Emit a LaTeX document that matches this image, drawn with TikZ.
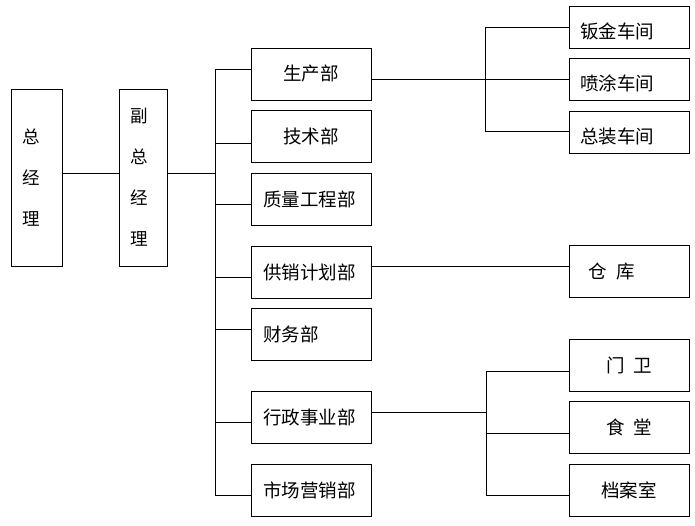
\documentclass[tikz,border=0pt]{standalone}
\usepackage{fontspec}
\newfontfamily\cjk{Noto Sans CJK SC}
\usetikzlibrary{calc}

\begin{document}
\begin{tikzpicture}[x=1pt, y=-1pt, line width=0.8pt,
  box/.style={draw, inner ysep=0pt, font=\cjk\fontsize{18.5}{22}\selectfont},
  boss/.style={box, inner xsep=11pt, align=left, minimum height=177pt,
    font=\cjk\fontsize{17.5}{41}\selectfont},
  dept/.style={box, inner xsep=12pt, text width=96pt, align=left, minimum height=52pt},
  shop/.style={box, inner xsep=11pt, text width=98pt, align=left, minimum height=42pt,
    text height=26pt, text depth=2pt},
  unit/.style={box, inner xsep=11pt, text width=98pt, align=center, minimum height=52pt}]
\useasboundingbox (0,0) rectangle (695,526);
\node[boss, text width=29pt] (zjl) at (36.5,177.5) {总\\经\\理};
\node[boss, text width=26pt] (fzjl) at (143,177.5) {副\\总\\经\\理};
\node[dept, align=center] (scb) at (311,74) {生产部};
\node[dept, align=center] (jsb) at (311,136.5) {技术部};
\node[dept] (zlb) at (311,199) {质量工程部};
\node[dept] (gxb) at (311,272) {供销计划部};
\node[dept] (cwb) at (311,334) {财务部};
\node[dept] (xzb) at (311,417) {行政事业部};
\node[dept] (scyx) at (311,490) {市场营销部};
\node[shop] (bj) at (629,27) {钣金车间};
\node[shop] (pt) at (629,79) {喷涂车间};
\node[shop] (zz) at (629,132) {总装车间};
\node[unit, align=left, inner xsep=19pt, text width=82pt] (ck) at (629,271.5) {仓\hspace{0.55em}库};
\node[unit] (mw) at (629,365) {门\hspace{0.45em}卫};
\node[unit] (st) at (629,427.5) {食\hspace{0.45em}堂};
\node[unit] (das) at (629,490) {档案室};
\coordinate (tk) at (215,0);
\coordinate (br1) at (485,0);
\coordinate (br2) at (486,0);
% top
\draw ([yshift=4.5pt]zjl.east) -- ([yshift=4.5pt]fzjl.west);
\draw ([yshift=4.5pt]fzjl.east) -- ([yshift=4.5pt]fzjl.east -| tk);
\draw ([yshift=5pt]scb.west) -- ([yshift=5pt]scb.west -| tk) -- ([yshift=-5pt]scyx.west -| tk) -- ([yshift=-5pt]scyx.west);
\foreach \d/\s in {jsb/-7, zlb/-5, gxb/-5, cwb/5, xzb/-5}
  \draw ([yshift=\s pt]\d.west) -- ([yshift=\s pt]\d.west -| tk);
% workshops
\draw ([yshift=-5pt]scb.east) -- (pt.west);
\draw (bj.west) -- (bj.west -| br1) -- ([yshift=1pt]zz.west -| br1) -- ([yshift=1pt]zz.west);
\draw ([yshift=6pt]gxb.east) -- ([yshift=6pt]gxb.east -| ck.west);
% admin units
\draw ([yshift=5pt]xzb.east) -- ([yshift=5pt]xzb.east -| br2);
\draw ([yshift=-6pt]mw.west) -- ([yshift=-6pt]mw.west -| br2) -- ([yshift=-5pt]das.west -| br2) -- ([yshift=-5pt]das.west);
\draw ([yshift=-5.5pt]st.west) -- ([yshift=-5.5pt]st.west -| br2);
\end{tikzpicture}
\end{document}
